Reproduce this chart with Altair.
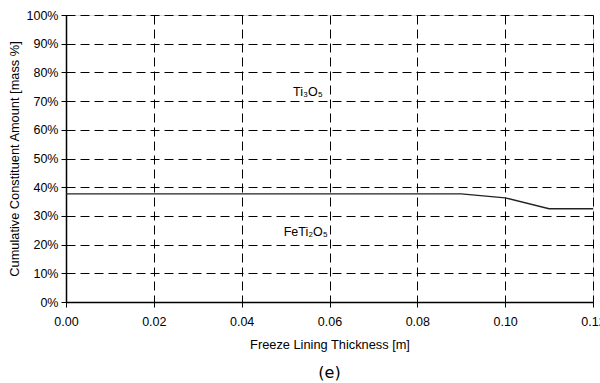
import altair as alt
import pandas as pd

thickness = [0.00, 0.01, 0.02, 0.03, 0.04, 0.05, 0.06, 0.07, 0.08, 0.09, 0.10, 0.11, 0.12]
boundary = [37.7, 37.7, 37.7, 37.7, 37.7, 37.7, 37.7, 37.7, 37.7, 37.7, 36.3, 32.5, 32.5]

label_text = ["Ti\u2083O\u2085", "FeTi\u2082O\u2085"]
label_x = [0.0551, 0.0546]
label_y = [73.3, 24.4]

x_ticks = [0, 0.02, 0.04, 0.06, 0.08, 0.10, 0.12]
y_ticks = [0, 10, 20, 30, 40, 50, 60, 70, 80, 90, 100]

df = pd.DataFrame({"x": thickness, "y": boundary})
lab = pd.DataFrame({"t": label_text, "x": label_x, "y": label_y})

FONT = "Liberation Sans"

xax = alt.X("x:Q", scale=alt.Scale(domain=[0, 0.12], nice=False),
            axis=alt.Axis(title="Freeze Lining Thickness [m]", values=x_ticks,
                          format=".2f", grid=True, gridColor="black", gridDash=[9, 5], gridWidth=1,
                          domainColor="black", domainWidth=1.5, tickColor="black", tickSize=5,
                          labelFont=FONT, labelFontSize=12.5, labelColor="black", labelPadding=8,
                          labelOverlap=False, labelFlush=False,
                          titleFont=FONT, titleFontSize=12.8, titleFontWeight="normal", titleColor="black",
                          titlePadding=11))
yax = alt.Y("y:Q", scale=alt.Scale(domain=[0, 100], nice=False),
            axis=alt.Axis(title="Cumulative Constituent Amount [mass %]", values=y_ticks,
                          labelExpr="datum.value + '%'", grid=True, gridColor="black", gridDash=[9, 5],
                          gridWidth=1, domainColor="black", domainWidth=1.5, tickColor="black", tickSize=5,
                          labelFont=FONT, labelFontSize=12.5, labelColor="black", labelPadding=3,
                          labelOverlap=False, labelFlush=False,
                          titleFont=FONT, titleFontSize=12.8, titleFontWeight="normal", titleColor="black",
                          titlePadding=5))

line = alt.Chart(df).mark_line(color="#222222", strokeWidth=1.3).encode(x=xax, y=yax)
text = alt.Chart(lab).mark_text(font=FONT, fontSize=12.5, color="black").encode(
    x=xax, y=yax, text="t:N")

chart = alt.layer(line, text).properties(
    width=527, height=287,
    autosize=alt.AutoSizeParams(type="none"),
    padding={"left": 66, "top": 15, "right": 7, "bottom": 81},
    title=alt.TitleParams("(e)", orient="bottom", font="DejaVu Sans", fontSize=16,
                          fontWeight="normal", color="black", offset=14),
).configure_view(stroke="black", strokeWidth=1.5).configure(background="white")

chart.save("out.html", embed_options={"renderer": "svg", "actions": False})
